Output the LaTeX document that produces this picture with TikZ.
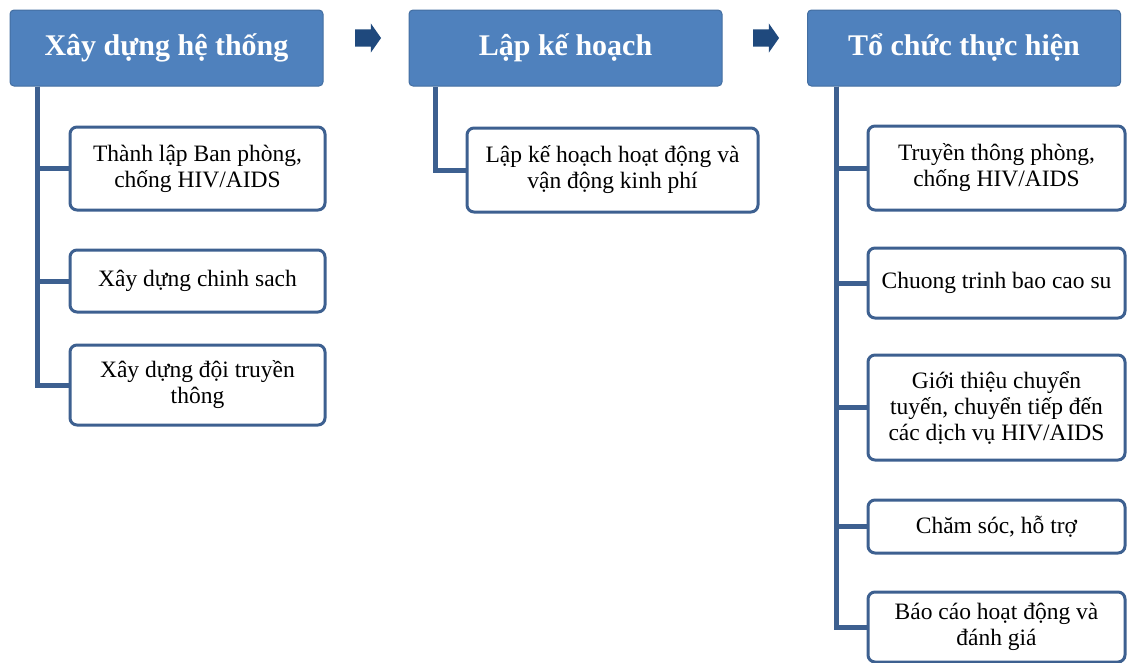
\documentclass[tikz,border=0pt]{standalone}
\usepackage{fontspec}
\setmainfont{Liberation Serif}
\usetikzlibrary{shapes.arrows}
\definecolor{headblue}{HTML}{4F81BD}
\definecolor{lineblue}{HTML}{3D6090}
\definecolor{arrowblue}{HTML}{1F497D}

\begin{document}
\begin{tikzpicture}[x=1pt,y=-1pt,
    head/.style={draw=headblue!85!black,fill=headblue,rounded corners=4pt,line width=1pt,text=white,
      font=\fontsize{30}{33}\selectfont\bfseries,minimum width=313pt,minimum height=76pt},
    task/.style={draw=lineblue,fill=white,line width=3pt,rounded corners=7pt,align=center,
      font=\fontsize{23.5}{26}\selectfont,inner sep=1pt},
    link/.style={draw=lineblue,line width=5pt},
    bigarrow/.style={single arrow,fill=arrowblue,minimum height=26pt,inner xsep=0pt,inner ysep=8.5pt,
      single arrow head extend=6pt,single arrow tip angle=110}]
    \clip (0,0) rectangle (1141,662);

    \node[head] (H1) at (166.5,48) {Xây dựng hệ thống};
    \node[head] (H2) at (565.5,48) {Lập kế hoạch};
    \node[head] (H3) at (964,48) {Tổ chức thực hiện};
    \node[bigarrow] (A1) at (365,38) {};
    \node[bigarrow] (A2) at (763,38) {};

    \node[task,minimum width=255pt,minimum height=83pt] (L1) at (197.5,168.5) {Thành lập Ban phòng,\\ chống HIV/AIDS};
    \node[task,minimum width=255pt,minimum height=62pt] (L2) at (197.5,281) {Xây dựng chinh sach};
    \node[task,minimum width=255pt,minimum height=80pt] (L3) at (197.5,385) {Xây dựng đội truyền\\ thông};

    \node[task,minimum width=291pt,minimum height=84pt] (M1) at (612.5,170) {Lập kế hoạch hoạt động và\\ vận động kinh phí};

    \node[task,minimum width=257pt,minimum height=84pt] (R1) at (996.5,168) {Truyền thông phòng,\\ chống HIV/AIDS};
    \node[task,minimum width=257pt,minimum height=70pt] (R2) at (996.5,283) {Chuong trinh bao cao su};
    \node[task,minimum width=257pt,minimum height=105pt] (R3) at (996.5,407.5) {Giới thiệu chuyển\\ tuyến, chuyển tiếp đến\\ các dịch vụ HIV/AIDS};
    \node[task,minimum width=257pt,minimum height=53pt] (R4) at (996.5,526.5) {Chăm sóc, hỗ trợ};
    \node[task,minimum width=257pt,minimum height=70pt] (R5) at (996.5,627) {Báo cáo hoạt động và\\ đánh giá};

    \draw[link] ([xshift=28pt]H1.south west) |- (L1.west);
    \draw[link] ([xshift=28pt]H1.south west) |- (L2.west);
    \draw[link] ([xshift=28pt]H1.south west) |- (L3.west);
    \draw[link] ([xshift=27pt]H2.south west) |- (M1.west);
    \draw[link] ([xshift=29pt]H3.south west) |- (R1.west);
    \draw[link] ([xshift=29pt]H3.south west) |- (R2.west);
    \draw[link] ([xshift=29pt]H3.south west) |- (R3.west);
    \draw[link] ([xshift=29pt]H3.south west) |- (R4.west);
    \draw[link] ([xshift=29pt]H3.south west) |- (R5.west);
\end{tikzpicture}
\end{document}
